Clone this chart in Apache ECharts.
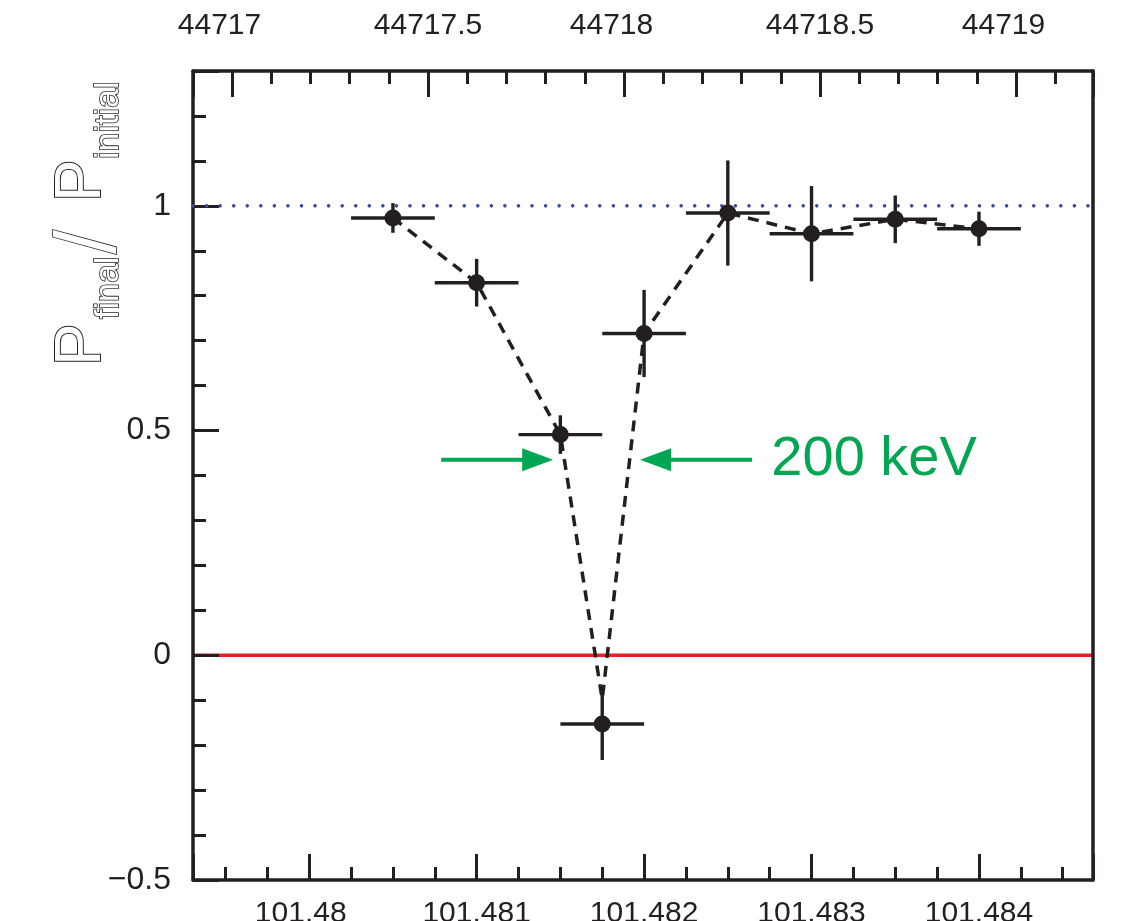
<!DOCTYPE html>
<html>
<head>
<meta charset="utf-8">
<script src="https://cdn.jsdelivr.net/npm/echarts@6/dist/echarts.min.js"></script>
<style>
html,body{margin:0;padding:0;background:#fff;}
#chart{width:1130px;height:921px;}
</style>
</head>
<body>
<div id="chart"></div>
<script>
// ---- data ----
const energyGeV = [101.4805, 101.481, 101.4815, 101.48175, 101.482, 101.4825, 101.483, 101.4835, 101.484];
const ratio     = [0.973, 0.829, 0.491, -0.153, 0.716, 0.984, 0.938, 0.970, 0.949];
const ratioErr  = [0.033, 0.053, 0.043, 0.080, 0.097, 0.117, 0.106, 0.053, 0.038];
const energyErr = [0.00025, 0.00025, 0.00025, 0.00025, 0.00025, 0.00025, 0.00025, 0.00025, 0.00025];
// dashed guide curve
const fitX = [101.4805, 101.481, 101.4815, 101.48175, 101.482, 101.4825, 101.483, 101.4835, 101.484];
const fitY = [0.973, 0.829, 0.491, -0.098, 0.716, 0.984, 0.938, 0.970, 0.949];
// axis ranges
const xRange = [101.479306, 101.484681];
const topRange = [44716.9005, 44719.1965];
const yRange = [-0.5, 1.3];
const unityLevel = 1;
const zeroLevel = 0;
// annotation
const arrowData = [[101.480788, 101.481457, 0.435], [101.482645, 101.481976, 0.435]];
const annotText = [[101.48276, 0.435, '200 keV']];

const INK = '#231f20';
const FONT = '"Liberation Sans", Arial, Helvetica, sans-serif';
const near = (v, step) => Math.abs(v / step - Math.round(v / step)) < 1e-6;

const chart = echarts.init(document.getElementById('chart'), null, {renderer: 'canvas'});

const baseX = {type: 'value', min: xRange[0], max: xRange[1], splitLine: {show: false}, z: 1};
const baseTop = {type: 'value', min: topRange[0], max: topRange[1], splitLine: {show: false}, z: 1};
const baseY = {type: 'value', min: yRange[0], max: yRange[1], splitLine: {show: false}, z: 1};
const frameLine = {show: true, onZero: false, lineStyle: {color: INK, width: 3.5}};
const noLine = {show: false, onZero: false};
const padRich = {
  n: {color: INK, fontSize: 30, fontFamily: FONT},
  p1: {color: INK, fontSize: 30, fontFamily: FONT, padding: [0, 17, 0, 0]},
  p2: {color: INK, fontSize: 30, fontFamily: FONT, padding: [0, 25, 0, 0]}
};

const option = {
  animation: false,
  backgroundColor: '#fff',
  grid: {left: 193, right: 37, top: 71, bottom: 41, containLabel: false, outerBoundsMode: 'none'},
  xAxis: [
    Object.assign({}, baseX, {
      position: 'bottom', minInterval: 0.001, maxInterval: 0.001,
      axisLine: frameLine,
      axisTick: {show: true, inside: true, length: 26, lineStyle: {color: INK, width: 3}},
      axisLabel: {show: true, margin: 19, color: INK, fontSize: 30, fontFamily: FONT, rich: padRich,
        formatter: v => {
          if (!near(v, 0.001)) return '';
          const s = String(parseFloat(v.toFixed(3)));
          const dec = (s.split('.')[1] || '').length;
          return dec < 3 ? '{p1|' + s + '}' : '{n|' + s + '}';
        }}
    }),
    Object.assign({}, baseX, {
      position: 'bottom', minInterval: 0.00025, maxInterval: 0.00025,
      axisLine: noLine,
      axisTick: {show: true, inside: true, length: 13, lineStyle: {color: INK, width: 3}},
      axisLabel: {show: false}
    }),
    Object.assign({}, baseTop, {
      position: 'top', minInterval: 0.5, maxInterval: 0.5,
      axisLine: frameLine,
      axisTick: {show: true, inside: true, length: 26, lineStyle: {color: INK, width: 3}},
      axisLabel: {show: true, margin: 30, color: INK, fontSize: 30, fontFamily: FONT, rich: padRich,
        formatter: v => {
          if (!near(v, 0.5)) return '';
          const s = String(parseFloat(v.toFixed(1)));
          return s.indexOf('.') < 0 ? '{p2|' + s + '}' : '{n|' + s + '}';
        }}
    }),
    Object.assign({}, baseTop, {
      position: 'top', minInterval: 0.1, maxInterval: 0.1,
      axisLine: noLine,
      axisTick: {show: true, inside: true, length: 13, lineStyle: {color: INK, width: 3}},
      axisLabel: {show: false}
    })
  ],
  yAxis: [
    Object.assign({}, baseY, {
      position: 'left', interval: 0.5,
      axisLine: frameLine,
      axisTick: {show: true, inside: true, length: 26, lineStyle: {color: INK, width: 3}},
      axisLabel: {show: true, margin: 22, color: INK, fontSize: 32, fontFamily: FONT,
        formatter: v => near(v, 0.5) ? String(parseFloat(v.toFixed(1))).replace('-', '\u2212') : ''}
    }),
    Object.assign({}, baseY, {
      position: 'left', interval: 0.1,
      axisLine: noLine,
      axisTick: {show: true, inside: true, length: 13, lineStyle: {color: INK, width: 3}},
      axisLabel: {show: false}
    }),
    Object.assign({}, baseY, {
      position: 'right',
      axisLine: frameLine,
      axisTick: {show: false},
      axisLabel: {show: false}
    })
  ],
  graphic: [{
    type: 'group', x: 114, y: 362, rotation: Math.PI / 2,
    children: [
      {type: 'text', x: -4, y: 0, style: {text: 'P', font: '64px ' + FONT, fill: '#fff', stroke: INK, lineWidth: 2, verticalAlign: 'bottom', textVerticalAlign: 'bottom'}},
      {type: 'text', x: 43, y: 12, style: {text: 'final', font: '34px ' + FONT, fill: '#fff', stroke: INK, lineWidth: 1.6, verticalAlign: 'bottom', textVerticalAlign: 'bottom'}},
      {type: 'text', x: 108, y: 20, style: {text: '/', font: '86px ' + FONT, fill: '#fff', stroke: INK, lineWidth: 1.6, verticalAlign: 'bottom', textVerticalAlign: 'bottom'}},
      {type: 'text', x: 160, y: 0, style: {text: 'P', font: '64px ' + FONT, fill: '#fff', stroke: INK, lineWidth: 2, verticalAlign: 'bottom', textVerticalAlign: 'bottom'}},
      {type: 'text', x: 203, y: 12, style: {text: 'initial', font: '34px ' + FONT, fill: '#fff', stroke: INK, lineWidth: 1.6, verticalAlign: 'bottom', textVerticalAlign: 'bottom'}}
    ]
  }],
  series: [
    {
      name: 'zero', type: 'line', xAxisIndex: 0, yAxisIndex: 0, z: 0,
      data: [[xRange[0], zeroLevel], [xRange[1], zeroLevel]],
      symbol: 'none', lineStyle: {color: '#ed1c24', width: 3.5}, silent: true
    },
    {
      name: 'unity', type: 'line', xAxisIndex: 0, yAxisIndex: 0, z: 3,
      data: [[xRange[0], unityLevel], [xRange[1], unityLevel]],
      symbol: 'none', lineStyle: {color: '#3b47a3', width: 3.6, type: [0.01, 13.55], cap: 'round'}, silent: true
    },
    {
      name: 'guide', type: 'line', xAxisIndex: 0, yAxisIndex: 0, z: 4,
      data: fitX.map((x, i) => [x, fitY[i]]),
      symbol: 'none', lineStyle: {color: INK, width: 3.5, type: [11, 8]}, silent: true
    },
    {
      name: 'errors', type: 'custom', xAxisIndex: 0, yAxisIndex: 0, z: 5,
      data: energyGeV.map((x, i) => [x, ratio[i], energyErr[i], ratioErr[i]]),
      encode: {x: 0, y: 1},
      renderItem: (params, api) => {
        const x = api.value(0), y = api.value(1), dx = api.value(2), dy = api.value(3);
        const l = api.coord([x - dx, y]), r = api.coord([x + dx, y]);
        const t = api.coord([x, y + dy]), b = api.coord([x, y - dy]);
        return {type: 'group', children: [
          {type: 'line', shape: {x1: l[0], y1: l[1], x2: r[0], y2: r[1]}, style: {stroke: INK, lineWidth: 3.4}},
          {type: 'line', shape: {x1: t[0], y1: t[1], x2: b[0], y2: b[1]}, style: {stroke: INK, lineWidth: 3.4}}
        ]};
      }
    },
    {
      name: 'data', type: 'scatter', xAxisIndex: 0, yAxisIndex: 0, z: 6,
      data: energyGeV.map((x, i) => [x, ratio[i]]),
      symbol: 'circle', symbolSize: 17, itemStyle: {color: INK, opacity: 1}
    },
    {
      name: 'arrows', type: 'custom', xAxisIndex: 0, yAxisIndex: 0, z: 6,
      data: arrowData, encode: {x: [0, 1], y: 2},
      renderItem: (params, api) => {
        const tail = api.coord([api.value(0), api.value(2)]);
        const tip = api.coord([api.value(1), api.value(2)]);
        const dir = tip[0] > tail[0] ? 1 : -1;
        const hl = 31, hw = 11.5;
        const base = tip[0] - dir * hl;
        return {type: 'group', children: [
          {type: 'line', shape: {x1: tail[0], y1: tail[1], x2: base + dir * 2, y2: tip[1]}, style: {stroke: '#00a651', lineWidth: 4}},
          {type: 'polygon', shape: {points: [[tip[0], tip[1]], [base, tip[1] - hw], [base, tip[1] + hw]]}, style: {fill: '#00a651'}}
        ]};
      }
    },
    {
      name: 'label', type: 'custom', xAxisIndex: 0, yAxisIndex: 0, z: 6,
      data: annotText, encode: {x: 0, y: 1},
      renderItem: (params, api) => {
        const p = api.coord([api.value(0), api.value(1)]);
        return {type: 'text', x: p[0], y: p[1], style: {text: annotText[params.dataIndex][2], font: '56px ' + FONT, fill: '#00a651', align: 'left', textAlign: 'left', verticalAlign: 'middle', textVerticalAlign: 'middle'}};
      }
    }
  ]
};
chart.setOption(option);
</script>
</body>
</html>
